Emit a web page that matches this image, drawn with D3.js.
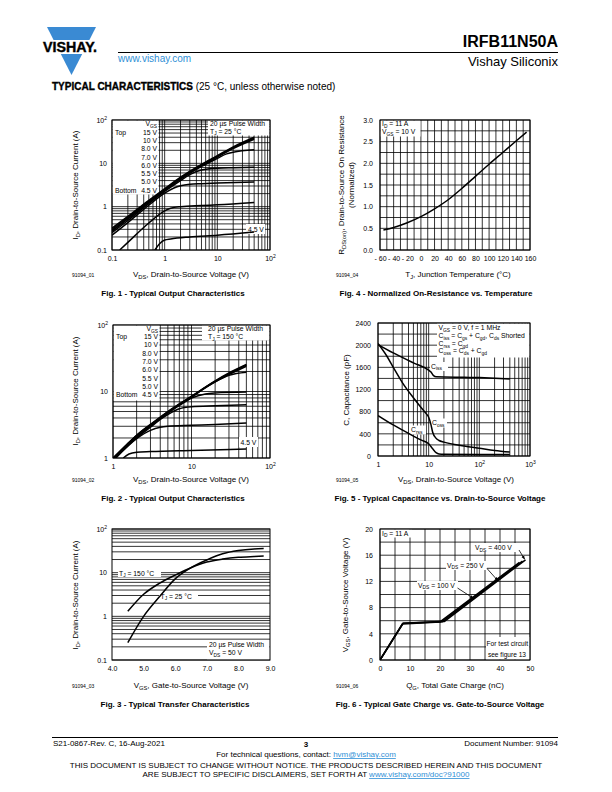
<!DOCTYPE html>
<html><head><meta charset="utf-8">
<script src="https://cdn.jsdelivr.net/npm/d3@7"></script>
<style>
body{margin:0;background:#fff}
svg{display:block;font-family:"Liberation Sans",Arial,Helvetica,sans-serif}
text{white-space:pre}
</style></head><body>
<svg id="page" width="612" height="792"></svg>
<script>
// ================= DATA =================
// Fig. 1 - output characteristics, TJ = 25 °C  [VDS (V), ID (A)]
const fig1Vgs = ["15 V","10 V","8.0 V","7.0 V","6.0 V","5.5 V","5.0 V","4.5 V"];
const fig1_15V = [[0.1,0.32],[0.2,0.6],[0.5,1.4],[1,2.6],[2,4.8],[5,9.5],[10,15],[20,24],[50,40]];
const fig1_10V = [[0.1,0.3],[0.2,0.57],[0.5,1.35],[1,2.5],[2,4.6],[5,9.2],[10,14.5],[20,23],[50,38]];
const fig1_8V  = [[0.1,0.28],[0.2,0.54],[0.5,1.3],[1,2.4],[2,4.4],[5,8.8],[10,14],[20,22],[50,36]];
const fig1_7V  = [[0.1,0.27],[0.2,0.52],[0.5,1.25],[1,2.35],[2,4.3],[5,8.5],[10,13],[15,16.5],[20,18],[50,20.5]];
const fig1_6V  = [[0.1,0.25],[0.2,0.48],[0.5,1.18],[1,2.25],[2,4.0],[3,5.5],[5,7.0],[10,7.7],[20,7.9],[50,8.1]];
const fig1_55V = [[0.1,0.22],[0.2,0.43],[0.5,1.08],[1,2.05],[1.5,2.7],[2,3.05],[3,3.3],[5,3.4],[10,3.5],[50,3.7]];
const fig1_5V  = [[0.14,0.1],[0.2,0.15],[0.5,0.42],[1,0.8],[1.3,0.92],[2,1.0],[5,1.06],[10,1.1],[50,1.25]];
const fig1_45V = [[0.65,0.1],[0.8,0.14],[1,0.17],[1.3,0.18],[3,0.2],[10,0.22],[50,0.26]];
const fig1Ticks = [0.1, 1, 10, 100];
const fig1TickLabels = ["0.1", "1", "10", "10^{2}"];

// Fig. 2 - output characteristics, TJ = 150 °C
const fig2_15V = [[1,1.0],[1.5,1.6],[2,2.2],[3,3.2],[5,5.0],[10,8.5],[20,14.5],[30,19],[50,25.5]];
const fig2_10V = [[1,0.99],[1.5,1.58],[2,2.18],[3,3.15],[5,4.95],[10,8.4],[20,14.2],[30,18.5],[50,25]];
const fig2_8V  = [[1,0.98],[2,2.15],[3,3.1],[5,4.9],[10,8.3],[20,14],[30,18],[50,24]];
const fig2_7V  = [[1,0.97],[2,2.1],[3,3.05],[5,4.8],[10,8.1],[15,11.5],[20,14],[30,17.5],[50,19.5]];
const fig2_6V  = [[1,0.95],[2,2.05],[3,3.0],[5,4.7],[8,7.0],[10,8.0],[15,9.2],[20,9.5],[50,9.8]];
const fig2_55V = [[1,0.93],[2,2.0],[3,2.9],[4,3.8],[5,4.5],[7,5.5],[10,5.9],[20,6.1],[50,6.3]];
const fig2_5V  = [[1,0.9],[2,1.95],[3,2.6],[4,2.9],[5,3.0],[10,3.1],[20,3.2],[50,3.35]];
const fig2_45V = [[1.35,1.0],[1.6,1.15],[2,1.22],[3,1.25],[10,1.3],[50,1.36]];
const fig2Ticks = [1, 10, 100];
const fig2TickLabels = ["1", "10", "10^{2}"];

// Fig. 3 - transfer characteristics [VGS (V), ID (A)]
const fig3Vgs = [4.5, 5.0, 5.5, 6.0, 6.5, 7.0, 7.5, 8.0, 8.5, 8.8];
const fig3Id150 = [1.3, 3.2, 5.7, 8.8, 13, 17.5, 20.5, 22.5, 23.5, 24];
const fig3Id25  = [0.25, 1.0, 2.8, 7.2, 13, 19.5, 27, 32, 35, 36];
const fig3XTicks = [4, 5, 6, 7, 8, 9];
const fig3YTicks = [0.1, 1, 10, 100];
const fig3YLabels = ["0.1", "1", "10", "10^{2}"];

// Fig. 4 - normalized on-resistance vs temperature
const fig4Temp = [-55, -40, -20, 0, 20, 40, 60, 80, 100, 120, 140, 155];
const fig4Rds  = [0.46, 0.52, 0.63, 0.77, 0.95, 1.16, 1.42, 1.7, 1.98, 2.25, 2.52, 2.72];
const fig4XTicks = [-60, -40, -20, 0, 20, 40, 60, 80, 100, 120, 140, 160];
const fig4YTicks = [0, 0.5, 1.0, 1.5, 2.0, 2.5, 3.0];

// Fig. 5 - capacitance vs VDS [VDS (V), C (pF)]
const fig5Ciss = [[1,2010],[2,1860],[5,1680],[10,1550],[11,1520],[12.5,1450],[14,1430],[50,1420],[100,1415],[200,1405],[400,1390]];
const fig5Coss = [[1,2030],[1.5,1800],[2,1600],[3,1330],[5,1050],[7,880],[9,760],[10,700],[11,580],[12,430],[14,320],[16,280],[20,250],[50,180],[100,140],[200,100],[400,70]];
const fig5Crss = [[1,730],[2,560],[3,470],[5,360],[7,290],[10,220],[12,130],[14,60],[16,35],[20,30],[100,28],[400,25]];
const fig5XTicks = [1, 10, 100, 1000];
const fig5XLabels = ["1", "10", "10^{2}", "10^{3}"];
const fig5YTicks = [0, 400, 800, 1200, 1600, 2000, 2400];

// Fig. 6 - gate charge [QG (nC), VGS (V)]
const fig6Vds100 = [[0,0],[7.5,5.5],[20,5.8],[46.5,14.9]];
const fig6Vds250 = [[0,0],[7.6,5.6],[20.8,5.85],[47.5,15.1]];
const fig6Vds400 = [[0,0],[7.7,5.6],[21.5,5.9],[48.5,15.3]];
const fig6XTicks = [0, 10, 20, 30, 40, 50];
const fig6YTicks = [0, 4, 8, 12, 16, 20];

// ================= DRAWING =================
const FONT = '"Liberation Sans", Arial, Helvetica, sans-serif';
const LS = 6.8; // legend font size
const svg = d3.select('#page');
const defs = svg.append('defs');
defs.append('marker').attr('id','arr').attr('viewBox','0 0 10 10').attr('refX',9).attr('refY',5)
  .attr('markerWidth',5).attr('markerHeight',5).attr('orient','auto')
  .append('path').attr('d','M0,1 L10,5 L0,9 Z').attr('fill','#000');

function rich(parent, str, o) {
  const t = parent.append('text').attr('x', o.x).attr('y', o.y)
    .attr('font-size', o.size).attr('text-anchor', o.anchor || 'start').attr('fill', o.fill || '#000');
  if (o.weight) t.attr('font-weight', o.weight);
  if (o.transform) t.attr('transform', o.transform);
  fillRich(t, str, o.size);
  return t;
}
function fillRich(t, str, size) {
  const parts = str.split(/(_\{[^}]*\}|\^\{[^}]*\})/).filter(s => s.length);
  let cur = 0;
  parts.forEach(p => {
    let kind = 'n', txt = p;
    if (p.startsWith('_{')) { kind = 'sub'; txt = p.slice(2, -1); }
    else if (p.startsWith('^{')) { kind = 'sup'; txt = p.slice(2, -1); }
    const off = kind === 'sub' ? size * 0.27 : kind === 'sup' ? -size * 0.42 : 0;
    const ts = t.append('tspan').text(txt);
    if (off - cur !== 0) ts.attr('dy', off - cur);
    if (kind !== 'n') ts.attr('font-size', size * 0.72);
    cur = off;
  });
}
function white(g, x, y, w, h) {
  g.append('rect').attr('x', x).attr('y', y).attr('width', w).attr('height', h).attr('fill', '#fff');
}
function logGrid(lo, hi) {
  const out = [];
  for (let e = Math.floor(Math.log10(lo) + 1e-9); e < Math.round(Math.log10(hi)); e++)
    for (let d = 1; d < 10; d++) { const v = d * Math.pow(10, e); if (v >= lo * 0.999 && v <= hi * 1.001) out.push(v); }
  out.push(hi);
  return out;
}
function richAxis(ax) {
  ax.selectAll('.tick text').each(function () {
    const t = d3.select(this); const s = t.text();
    if (s.indexOf('{') >= 0) { t.text(''); fillRich(t, s, 7); }
  });
}
let clipN = 0;
function panel(o) {
  const g = svg.append('g');
  const x = o.x, y = o.y;
  const X0 = x.range()[0], X1 = x.range()[1], Yb = y.range()[0], Yt = y.range()[1];
  g.append('g').selectAll('line').data(o.gridX || []).join('line')
    .attr('x1', d => x(d)).attr('x2', d => x(d)).attr('y1', Yt).attr('y2', Yb)
    .attr('stroke', '#000').attr('stroke-width', 0.8);
  g.append('g').selectAll('line').data(o.gridY || []).join('line')
    .attr('y1', d => y(d)).attr('y2', d => y(d)).attr('x1', X0).attr('x2', X1)
    .attr('stroke', '#000').attr('stroke-width', 0.8);
  (o.masks || []).forEach(m => white(g, m[0], m[1], m[2], m[3]));
  g.append('rect').attr('x', X0).attr('y', Yt).attr('width', X1 - X0).attr('height', Yb - Yt)
    .attr('fill', 'none').attr('stroke', '#000').attr('stroke-width', 1);
  const id = 'clip' + (clipN++);
  defs.append('clipPath').attr('id', id).append('rect').attr('x', X0).attr('y', Yt).attr('width', X1 - X0).attr('height', Yb - Yt);
  const line = d3.line().x(d => x(d[0])).y(d => y(d[1])).curve(o.curve || d3.curveMonotoneX);
  const cg = g.append('g').attr('clip-path', `url(#${id})`);
  o.curves.forEach(c => cg.append('path').attr('d', line(c)).attr('fill', 'none')
    .attr('stroke', '#000').attr('stroke-width', o.lw || 1.5).attr('stroke-linejoin', 'round'));
  const ax = g.append('g').attr('transform', `translate(0,${Yb})`)
    .call(d3.axisBottom(x).tickValues(o.xt).tickFormat(o.xf).tickSize(0).tickPadding(6));
  ax.select('.domain').remove();
  ax.attr('font-size', 7).attr('font-family', FONT);
  ax.selectAll('text').attr('fill', '#000');
  richAxis(ax);
  const ay = g.append('g').attr('transform', `translate(${X0},0)`)
    .call(d3.axisLeft(y).tickValues(o.yt).tickFormat(o.yf).tickSize(0).tickPadding(o.ypad || 5));
  ay.select('.domain').remove();
  ay.attr('font-size', 7).attr('font-family', FONT);
  ay.selectAll('text').attr('fill', '#000');
  richAxis(ay);
  return g;
}
function titles(o) {
  rich(svg, o.xt, { x: o.xtx, y: o.xty, size: 8, anchor: 'middle' });
  o.yt.forEach((s, i) => rich(svg, s, { x: 0, y: 0, size: 8, anchor: 'middle',
    transform: `translate(${o.ytx + i * 10},${o.yty}) rotate(-90)` }));
  svg.append('text').attr('x', o.idx).attr('y', o.xty).attr('font-size', 5).text(o.id);
  svg.append('text').attr('x', o.cx).attr('y', o.cy).attr('font-size', 8).attr('font-weight', 'bold')
    .attr('text-anchor', 'middle').text(o.cap);
}

// ---------- Header ----------
const BLUE = '#3a8ad3';
svg.append('polygon').attr('points', '47,27 96,27 89.4,40 53.6,40').attr('fill', BLUE);
svg.append('polygon').attr('points', '60.8,54 82.2,54 71.5,75').attr('fill', BLUE);
svg.append('text').attr('x', 43).attr('y', 52).attr('font-size', 14).attr('font-weight', 'bold')
  .attr('textLength', 54).attr('lengthAdjust', 'spacingAndGlyphs').attr('stroke', '#000').attr('stroke-width', 0.4).text('VISHAY.');
svg.append('line').attr('x1', 118).attr('x2', 558).attr('y1', 52.5).attr('y2', 52.5).attr('stroke', '#000').attr('stroke-width', 1);
svg.append('text').attr('x', 118).attr('y', 61.5).attr('font-size', 10).attr('fill', '#2f8fd6').text('www.vishay.com');
svg.append('text').attr('x', 558).attr('y', 47).attr('font-size', 16).attr('font-weight', 'bold').attr('text-anchor', 'end').text('IRFB11N50A');
svg.append('text').attr('x', 558).attr('y', 66).attr('font-size', 13).attr('text-anchor', 'end').text('Vishay Siliconix');
const tc = svg.append('text').attr('x', 52).attr('y', 90).attr('font-size', 10);
tc.append('tspan').attr('font-weight', 'bold').attr('stroke', '#000').attr('stroke-width', 0.35).text('TYPICAL CHARACTERISTICS');
tc.append('tspan').text(' (25 °C, unless otherwise noted)');

// ---------- Fig 1 ----------
{
  const x = d3.scaleLog().domain([0.1, 100]).range([112, 270]);
  const y = d3.scaleLog().domain([0.1, 100]).range([250, 120]);
  panel({ x, y, gridX: logGrid(0.1, 100), gridY: logGrid(0.1, 100),
    masks: [[112.5, 120.5, 46, 74], [208, 120.5, 61.5, 15], [246, 224, 19, 10]],
    curves: [fig1_15V, fig1_10V, fig1_8V, fig1_7V, fig1_6V, fig1_55V, fig1_5V, fig1_45V],
    xt: fig1Ticks, xf: (d, i) => fig1TickLabels[i], yt: fig1Ticks, yf: (d, i) => fig1TickLabels[i] });
  const g = svg.append('g');
  rich(g, 'V_{GS}', { x: 157, y: 126.3, size: LS, anchor: 'end' });
  fig1Vgs.forEach((s, i) => rich(g, s, { x: 157, y: 134.8 + i * 8.25, size: LS, anchor: 'end' }));
  rich(g, 'Top', { x: 115, y: 134.8, size: LS });
  rich(g, 'Bottom', { x: 115, y: 134.8 + 7 * 8.25, size: LS });
  rich(g, '20 µs Pulse Width', { x: 210, y: 126.3, size: LS });
  rich(g, 'T_{J} = 25 °C', { x: 210, y: 133.6, size: LS });
  rich(g, '4.5 V', { x: 248, y: 231.5, size: LS });
  titles({ xt: 'V_{DS}, Drain-to-Source Voltage (V)', xtx: 191, xty: 277,
    yt: ['I_{D}, Drain-to-Source Current (A)'], ytx: 78, yty: 185,
    id: '91094_01', idx: 72, cx: 173, cy: 296, cap: 'Fig. 1 - Typical Output Characteristics' });
}

// ---------- Fig 4 ----------
{
  const x = d3.scaleLinear().domain([-60, 160]).range([380, 530]);
  const y = d3.scaleLinear().domain([0, 3]).range([250, 120]);
  panel({ x, y, gridX: d3.range(-60, 161, 10), gridY: d3.range(0, 3.01, 0.25),
    masks: [[380.5, 120.5, 40, 16]],
    curves: [fig4Temp.map((t, i) => [t, fig4Rds[i]])],
    xt: fig4XTicks, xf: d => d < 0 ? '- ' + (-d) : String(d),
    yt: fig4YTicks, yf: d3.format('.1f'), ypad: 7 });
  rich(svg, 'I_{D} = 11 A', { x: 382, y: 126, size: LS });
  rich(svg, 'V_{GS} = 10 V', { x: 382, y: 134, size: LS });
  titles({ xt: 'T_{J}, Junction Temperature (°C)', xtx: 458, xty: 277,
    yt: ['R_{DS(on)}, Drain-to-Source On Resistance', '(Normalized)'], ytx: 343.5, yty: 185,
    id: '91094_04', idx: 336, cx: 436, cy: 296, cap: 'Fig. 4 - Normalized On-Resistance vs. Temperature' });
}

// ---------- Fig 2 ----------
{
  const x = d3.scaleLog().domain([1, 100]).range([113, 270]);
  const y = d3.scaleLog().domain([1, 100]).range([458, 325]);
  panel({ x, y, gridX: logGrid(1, 100), gridY: logGrid(1, 100),
    masks: [[113.5, 325.5, 46, 75], [202, 325.5, 67.5, 15], [239, 437, 19, 10]],
    curves: [fig2_15V, fig2_10V, fig2_8V, fig2_7V, fig2_6V, fig2_55V, fig2_5V, fig2_45V],
    xt: fig2Ticks, xf: (d, i) => fig2TickLabels[i], yt: fig2Ticks, yf: (d, i) => fig2TickLabels[i] });
  const g = svg.append('g');
  rich(g, 'V_{GS}', { x: 158, y: 330.8, size: LS, anchor: 'end' });
  fig1Vgs.forEach((s, i) => rich(g, s, { x: 158, y: 339.1 + i * 8.34, size: LS, anchor: 'end' }));
  rich(g, 'Top', { x: 116, y: 339.1, size: LS });
  rich(g, 'Bottom', { x: 116, y: 339.1 + 7 * 8.34, size: LS });
  rich(g, '20 µs Pulse Width', { x: 208, y: 331.3, size: LS });
  rich(g, 'T_{J} = 150 °C', { x: 208, y: 338.8, size: LS });
  rich(g, '4.5 V', { x: 240.5, y: 445, size: LS });
  titles({ xt: 'V_{DS}, Drain-to-Source Voltage (V)', xtx: 191, xty: 482,
    yt: ['I_{D}, Drain-to-Source Current (A)'], ytx: 78, yty: 391,
    id: '91094_02', idx: 72, cx: 173, cy: 501, cap: 'Fig. 2 - Typical Output Characteristics' });
}

// ---------- Fig 5 ----------
{
  const x = d3.scaleLog().domain([1, 1000]).range([378, 530]);
  const y = d3.scaleLinear().domain([0, 2400]).range([456, 323]);
  panel({ x, y, gridX: logGrid(1, 1000), gridY: d3.range(0, 2401, 200),
    masks: [[437, 323.5, 92.5, 34], [430, 362, 18, 9], [431, 418.5, 16, 9], [410, 425.5, 16, 9]],
    curves: [fig5Ciss, fig5Coss, fig5Crss],
    xt: fig5XTicks, xf: (d, i) => fig5XLabels[i], yt: fig5YTicks, yf: d => String(d), ypad: 7 });
  const g = svg.append('g');
  rich(g, 'V_{GS} = 0 V, f = 1 MHz', { x: 438.5, y: 330.3, size: LS });
  rich(g, 'C_{iss} = C_{gs} + C_{gd}, C_{ds} Shorted', { x: 438.5, y: 338, size: LS });
  rich(g, 'C_{rss} = C_{gd}', { x: 438.5, y: 345.7, size: LS });
  rich(g, 'C_{oss} = C_{ds} + C_{gd}', { x: 438.5, y: 353.4, size: LS });
  rich(g, 'C_{iss}', { x: 431, y: 368.5, size: LS });
  rich(g, 'C_{oss}', { x: 432, y: 425, size: LS });
  rich(g, 'C_{rss}', { x: 411, y: 432, size: LS });
  titles({ xt: 'V_{DS}, Drain-to-Source Voltage (V)', xtx: 456, xty: 482,
    yt: ['C, Capacitance (pF)'], ytx: 349, yty: 390,
    id: '91094_05', idx: 336, cx: 440, cy: 501, cap: 'Fig. 5 - Typical Capacitance vs. Drain-to-Source Voltage' });
}

// ---------- Fig 3 ----------
{
  const x = d3.scaleLinear().domain([4, 9]).range([112, 270]);
  const y = d3.scaleLog().domain([0.1, 100]).range([660, 529]);
  panel({ x, y, gridX: [], gridY: logGrid(0.1, 100),
    masks: [[118, 568, 43, 9], [159, 591, 39, 9], [207, 640, 62.5, 19.5]],
    curves: [fig3Vgs.map((v, i) => [v, fig3Id150[i]]), fig3Vgs.map((v, i) => [v, fig3Id25[i]])],
    xt: fig3XTicks, xf: d3.format('.1f'), yt: fig3YTicks, yf: (d, i) => fig3YLabels[i] });
  rich(svg, 'T_{J} = 150 °C', { x: 119, y: 575.5, size: LS });
  rich(svg, 'T_{J} = 25 °C', { x: 160.5, y: 598.5, size: LS });
  rich(svg, '20 µs Pulse Width', { x: 209, y: 647.3, size: LS });
  rich(svg, 'V_{DS} = 50 V', { x: 209, y: 655, size: LS });
  titles({ xt: 'V_{GS}, Gate-to-Source Voltage (V)', xtx: 191, xty: 687.5,
    yt: ['I_{D}, Drain-to-Source Current (A)'], ytx: 78, yty: 595,
    id: '91094_03', idx: 72, cx: 175, cy: 706.5, cap: 'Fig. 3 - Typical Transfer Characteristics' });
}

// ---------- Fig 6 ----------
{
  const x = d3.scaleLinear().domain([0, 50]).range([380, 530]);
  const y = d3.scaleLinear().domain([0, 20]).range([660, 529]);
  panel({ x, y, gridX: d3.range(0, 51, 5), gridY: d3.range(0, 21, 2),
    masks: [[380.5, 529.5, 31, 8], [474, 543, 45, 9], [446, 561, 41, 9], [417, 581, 41, 9], [486, 637, 43.5, 22.5]],
    curves: [fig6Vds100, fig6Vds250, fig6Vds400], curve: d3.curveLinear, lw: 1.6,
    xt: fig6XTicks, xf: d => String(d), yt: fig6YTicks, yf: d => String(d), ypad: 7 });
  rich(svg, 'I_{D} = 11 A', { x: 382, y: 535.5, size: LS });
  rich(svg, 'V_{DS} = 400 V', { x: 475, y: 549.8, size: LS });
  rich(svg, 'V_{DS} = 250 V', { x: 447, y: 567.5, size: LS });
  rich(svg, 'V_{DS} = 100 V', { x: 418, y: 587.5, size: LS });
  const arrows = [[519, 550, x(48.2), y(15.4)], [487, 568.5, x(39.3), y(12.1)], [457.5, 588, x(31.2), y(9.4)]];
  arrows.forEach(a => svg.append('line').attr('x1', a[0]).attr('y1', a[1]).attr('x2', a[2]).attr('y2', a[3])
    .attr('stroke', '#000').attr('stroke-width', 0.8).attr('marker-end', 'url(#arr)'));
  rich(svg, 'For test circuit', { x: 528, y: 646, size: 6.6, anchor: 'end' });
  rich(svg, 'see figure 13', { x: 526, y: 657, size: 6.6, anchor: 'end' });
  titles({ xt: 'Q_{G}, Total Gate Charge (nC)', xtx: 455, xty: 687.5,
    yt: ['V_{GS}, Gate-to-Source Voltage (V)'], ytx: 348, yty: 595,
    id: '91094_06', idx: 336, cx: 440, cy: 706.5, cap: 'Fig. 6 - Typical Gate Charge vs. Gate-to-Source Voltage' });
}

// ---------- Footer ----------
svg.append('line').attr('x1', 52).attr('x2', 558).attr('y1', 737.5).attr('y2', 737.5).attr('stroke', '#000').attr('stroke-width', 1);
svg.append('text').attr('x', 53).attr('y', 746).attr('font-size', 8).text('S21-0867-Rev. C, 16-Aug-2021');
svg.append('text').attr('x', 306).attr('y', 747).attr('font-size', 8).attr('font-weight', 'bold').attr('text-anchor', 'middle').text('3');
svg.append('text').attr('x', 558).attr('y', 746).attr('font-size', 8).attr('text-anchor', 'end').text('Document Number: 91094');
const f1 = svg.append('text').attr('x', 306).attr('y', 757).attr('font-size', 8).attr('text-anchor', 'middle');
f1.append('tspan').text('For technical questions, contact: ');
f1.append('tspan').attr('fill', '#2f8fd6').attr('text-decoration', 'underline').text('hvm@vishay.com');
svg.append('text').attr('x', 306).attr('y', 768).attr('font-size', 8).attr('text-anchor', 'middle')
  .text('THIS DOCUMENT IS SUBJECT TO CHANGE WITHOUT NOTICE. THE PRODUCTS DESCRIBED HEREIN AND THIS DOCUMENT');
const f2 = svg.append('text').attr('x', 306).attr('y', 777).attr('font-size', 8).attr('text-anchor', 'middle');
f2.append('tspan').text('ARE SUBJECT TO SPECIFIC DISCLAIMERS, SET FORTH AT ');
f2.append('tspan').attr('fill', '#2f8fd6').attr('text-decoration', 'underline').text('www.vishay.com/doc?91000');
</script>
</body></html>
